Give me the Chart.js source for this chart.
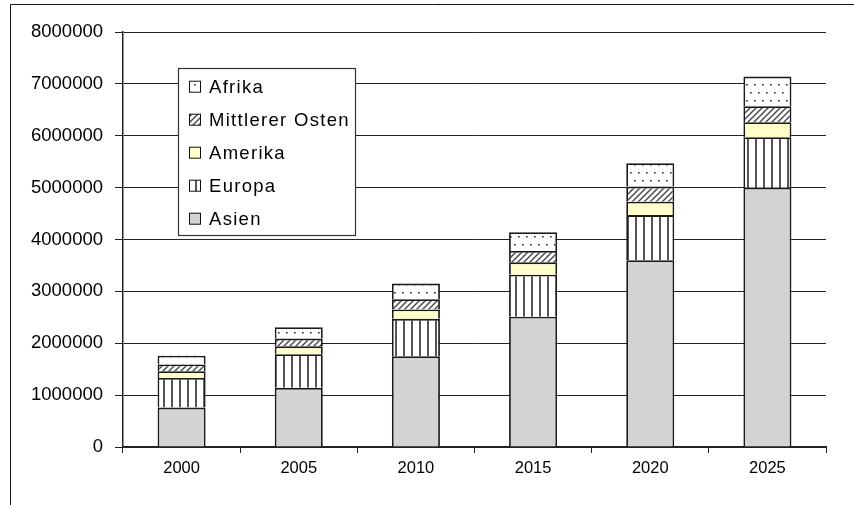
<!DOCTYPE html>
<html>
<head>
<meta charset="utf-8">
<script src="https://cdn.jsdelivr.net/npm/chart.js@4/dist/chart.umd.min.js"></script>
<style>
  html, body { margin: 0; padding: 0; background: #fff; }
  #wrap { position: relative; width: 854px; height: 505px; }
</style>
</head>
<body>
<div id="wrap"><canvas id="chart"></canvas></div>
<script>
'use strict';

// Jahre und Werte je Region (gestapelt, unten nach oben)
var years = ['2000', '2005', '2010', '2015', '2020', '2025'];
var asien = [760000, 1140000, 1750000, 2510000, 3600000, 5000000];
var europa = [570000, 650000, 720000, 810000, 870000, 970000];
var amerika = [130000, 150000, 180000, 240000, 260000, 290000];
var mittlererOsten = [130000, 150000, 200000, 220000, 290000, 310000];
var afrika = [170000, 220000, 300000, 360000, 450000, 570000];

var yMax = 8000000;
var yStep = 1000000;

var FONT = '"Liberation Sans", Arial, Helvetica, sans-serif';


// Small tiles used as fill patterns for the bars
//
function makePattern(w, h, draw) {
  var c = document.createElement('canvas');
  c.width = w;
  c.height = h;
  var g = c.getContext('2d');
  g.fillStyle = '#fff';
  g.fillRect(0, 0, w, h);
  draw(g, w, h);
  return g.createPattern(c, 'repeat');
}

var stripes = makePattern(8, 8, function(g) {
  g.fillStyle = '#555';
  g.fillRect(3, 0, 2, 8);
});

var hatch = makePattern(6, 6, function(g) {
  g.strokeStyle = '#444';
  g.lineWidth = 1.4;
  g.beginPath();
  g.moveTo(-1, 7); g.lineTo(7, -1);
  g.moveTo(-1, 1); g.lineTo(1, -1);
  g.moveTo(5, 7); g.lineTo(7, 5);
  g.stroke();
});

var dots = makePattern(8, 16, function(g) {
  g.fillStyle = '#333';
  g.fillRect(2, 4, 1.6, 1.6);
  g.fillRect(6, 12, 1.6, 1.6);
});


// Legend box inside the plot, plus the frame lines round the chart
//
var boxLegend = {
  id: 'boxLegend',
  beforeDraw: function(chart) {
    var ctx = chart.ctx;
    ctx.save();
    ctx.fillStyle = '#fff';
    ctx.fillRect(0, 0, chart.width, chart.height);
    ctx.strokeStyle = '#111';
    ctx.lineWidth = 1;
    ctx.beginPath();
    ctx.moveTo(10.5, chart.height);
    ctx.lineTo(10.5, 4.5);
    ctx.lineTo(chart.width, 4.5);
    ctx.stroke();
    ctx.restore();
  },
  afterDraw: function(chart) {
    var ctx = chart.ctx;
    var sets = chart.data.datasets.slice().reverse();
    var x = 178.5, y = 68.5, w = 177, h = 167;

    ctx.save();
    ctx.fillStyle = '#fff';
    ctx.fillRect(x, y, w, h);
    ctx.strokeStyle = '#333';
    ctx.lineWidth = 1.2;
    ctx.strokeRect(x, y, w, h);

    ctx.font = '18.5px ' + FONT;
    ctx.letterSpacing = '1.3px';
    ctx.textBaseline = 'middle';
    ctx.textAlign = 'left';

    sets.forEach(function(ds, i) {
      var cy = 86.7 + i * 33;
      ctx.fillStyle = ds.backgroundColor;
      ctx.fillRect(189.5, cy - 5.5, 11, 11);
      ctx.strokeStyle = '#111';
      ctx.lineWidth = 1;
      ctx.strokeRect(189.5, cy - 5.5, 11, 11);
      ctx.fillStyle = '#000';
      ctx.fillText(ds.label, 209, cy + 1);
    });
    ctx.restore();
  }
};


Chart.defaults.font.family = FONT;
Chart.defaults.color = '#000';

new Chart(document.getElementById('chart'), {
  type: 'bar',
  data: {
    labels: years,
    datasets: [
      { label: 'Asien', data: asien, backgroundColor: '#d3d3d3' },
      { label: 'Europa', data: europa, backgroundColor: stripes },
      { label: 'Amerika', data: amerika, backgroundColor: '#ffffcc' },
      { label: 'Mittlerer Osten', data: mittlererOsten, backgroundColor: hatch },
      { label: 'Afrika', data: afrika, backgroundColor: dots }
    ]
  },
  options: {
    responsive: true,
    maintainAspectRatio: false,
    animation: false,
    layout: {
      padding: { top: 32, left: 0, right: 28, bottom: 28 }
    },
    datasets: {
      bar: {
        borderColor: '#1a1a1a',
        borderWidth: 1.8,
        borderSkipped: 'start',
        barPercentage: 0.41,
        categoryPercentage: 1
      }
    },
    plugins: {
      legend: { display: false },
      tooltip: { enabled: false }
    },
    scales: {
      x: {
        stacked: true,
        afterFit: function(s) { s.height = 30; },
        grid: {
          offset: true,
          drawOnChartArea: false,
          tickLength: 6,
          tickColor: '#222',
          tickWidth: 1
        },
        border: { display: true, color: '#222', width: 2 },
        ticks: {
          padding: 6,
          font: { size: 16.5 },
          maxRotation: 0
        }
      },
      y: {
        stacked: true,
        min: 0,
        max: yMax,
        afterFit: function(s) { s.width = 123; },
        grid: {
          color: '#222',
          lineWidth: 1,
          tickLength: 8,
          tickColor: '#222'
        },
        border: { display: true, color: '#222', width: 1.5 },
        ticks: {
          stepSize: yStep,
          padding: 12,
          font: { size: 18.5 },
          callback: function(v) { return String(v); }
        }
      }
    }
  },
  plugins: [boxLegend]
});
</script>
</body>
</html>
